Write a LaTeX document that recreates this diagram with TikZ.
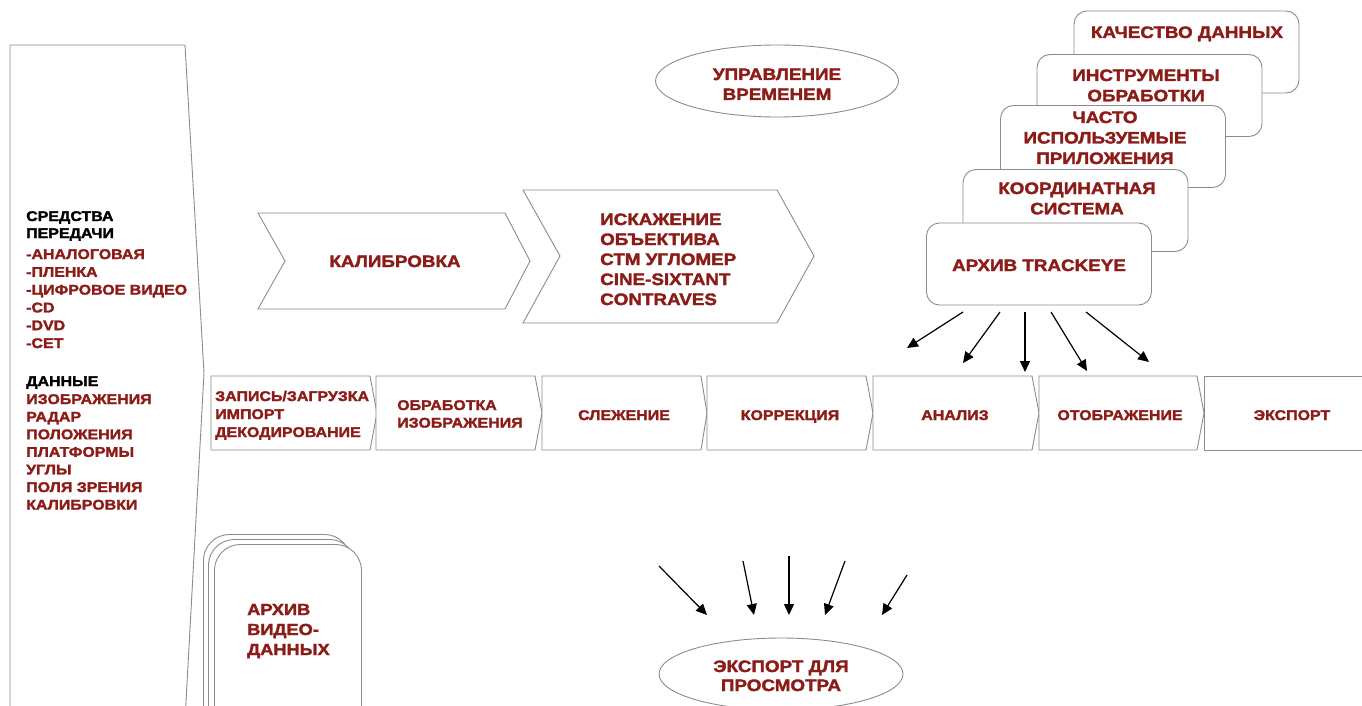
\documentclass[tikz,border=0pt]{standalone}
\usepackage{fontspec}
\setmainfont{Liberation Sans}[FakeStretch=1.14,BoldFeatures={FakeBold=2}]
\usetikzlibrary{arrows.meta,shapes.geometric}
\definecolor{tred}{RGB}{140,28,24}
\definecolor{lgray}{RGB}{140,140,140}
\begin{document}
\begin{tikzpicture}[x=1pt,y=-1pt,
  sml/.style={text=tred,font=\bfseries\fontsize{14}{17.6}\selectfont,inner sep=0pt,align=left},
  blk/.style={sml,text=black},
  big/.style={text=tred,font=\bfseries\fontsize{16.5}{20.3}\selectfont,inner sep=0pt},
  shp/.style={draw=lgray,line width=0.9pt,fill=white},
  arr/.style={-{Triangle[length=11pt,width=10pt]},line width=1.2pt},
  rbox/.style={shp,rounded corners=13pt,minimum width=225pt,minimum height=82pt,inner sep=0pt},
  vbox/.style={shp,rounded corners=26pt,minimum width=147pt,minimum height=200pt,inner sep=0pt,anchor=north west},
  ell/.style={shp,ellipse,minimum width=243pt,minimum height=72pt,inner sep=0pt}]
\useasboundingbox (0,0) rectangle (1362,706);
\clip (0,0) rectangle (1362,706);
\fill[white] (0,0) rectangle (1362,706);

% left panel
\draw[shp] (10,720) -- (10,45) -- (185,45) -- (204,373) -- (185,720);
\node[blk,anchor=base west,font=\bfseries\fontsize{14}{17}\selectfont] (media) at (26,238) {СРЕДСТВА\\ПЕРЕДАЧИ};
\node[sml,anchor=base west,font=\bfseries\fontsize{14}{17.8}\selectfont] (medialist) at (26,348)
  {-АНАЛОГОВАЯ\\-ПЛЕНКА\\-ЦИФРОВОЕ ВИДЕО\\-CD\\-DVD\\-СЕТ};
\node[blk,anchor=base west] (data) at (26,386) {ДАННЫЕ};
\node[sml,anchor=base west] (datalist) at (26,509.6)
  {ИЗОБРАЖЕНИЯ\\РАДАР\\ПОЛОЖЕНИЯ\\ПЛАТФОРМЫ\\УГЛЫ\\ПОЛЯ ЗРЕНИЯ\\КАЛИБРОВКИ};

% upper chevrons
\draw[shp] (258,213) -- (505,213) -- (530,261) -- (505,309) -- (258,309) -- (285,261) -- cycle;
\node[big,anchor=base] (calib) at (395,267) {КАЛИБРОВКА};
\draw[shp] (523,190) -- (777,190) -- (814,256) -- (777,323) -- (523,323) -- (560,256) -- cycle;
\node[big,anchor=base west,align=left,font=\bfseries\fontsize{16.5}{20}\selectfont] (lens) at (600,305)
  {ИСКАЖЕНИЕ\\ОБЪЕКТИВА\\СТМ УГЛОМЕР\\CINE-SIXTANT\\CONTRAVES};

% time ellipse
\node[ell] (timeell) at (777,81) {};
\node[big,anchor=base,align=center,font=\bfseries\fontsize{16.5}{20}\selectfont] (timetxt) at (777,100)
  {УПРАВЛЕНИЕ\\ВРЕМЕНЕМ};

% stacked rounded boxes
\node[rbox] (quality) at (1186.5,52) {};
\node[big,anchor=base] (qualitytxt) at (1187,38) {КАЧЕСТВО ДАННЫХ};
\node[rbox] (tools) at (1149.5,95.5) {};
\node[big,anchor=base,align=center] (toolstxt) at (1146,101.3) {ИНСТРУМЕНТЫ\\ОБРАБОТКИ};
\node[rbox] (apps) at (1113,146.5) {};
\node[big,anchor=base,align=center,font=\bfseries\fontsize{16.5}{20.5}\selectfont] (appstxt) at (1105,164)
  {ЧАСТО\\ИСПОЛЬЗУЕМЫЕ\\ПРИЛОЖЕНИЯ};
\node[rbox] (coord) at (1075.5,210.5) {};
\node[big,anchor=base,align=center] (coordtxt) at (1077,214.3) {КООРДИНАТНАЯ\\СИСТЕМА};
\node[rbox] (trk) at (1039,264) {};
\node[big,anchor=base] (trktxt) at (1039,271) {АРХИВ TRACKEYE};

% arrows from trackeye archive
\coordinate (ta1) at (963,312); \coordinate (tb1) at (907,348);
\coordinate (ta2) at (1000,312); \coordinate (tb2) at (963,363);
\coordinate (ta3) at (1025,312); \coordinate (tb3) at (1025,372);
\coordinate (ta4) at (1051,312); \coordinate (tb4) at (1087,371);
\coordinate (ta5) at (1086,312); \coordinate (tb5) at (1149,362);
\foreach \i in {1,...,5} {\draw[arr] (ta\i) -- (tb\i);}

% process row
\draw[shp] (211,376) -- (370,376) -- (377,413) -- (370,450) -- (211,450) -- cycle;
\draw[shp] (376,376) -- (535,376) -- (542,413) -- (535,450) -- (376,450) -- cycle;
\draw[shp] (542,376) -- (701,376) -- (707,413) -- (701,450) -- (542,450) -- cycle;
\draw[shp] (707,376) -- (866,376) -- (873,413) -- (866,450) -- (707,450) -- cycle;
\draw[shp] (873,376) -- (1032,376) -- (1039,413) -- (1032,450) -- (873,450) -- cycle;
\draw[shp] (1039,376) -- (1197,376) -- (1204,413) -- (1197,450) -- (1039,450) -- cycle;
\draw[shp] (1204,376) -- (1375,376) -- (1375,450) -- (1204,450) -- cycle;
\node[sml,anchor=base west,font=\bfseries\fontsize{14}{18}\selectfont] (p1) at (215,437)
  {ЗАПИСЬ/ЗАГРУЗКА\\ИМПОРТ\\ДЕКОДИРОВАНИЕ};
\node[sml,anchor=base west] (p2) at (397,427.6) {ОБРАБОТКА\\ИЗОБРАЖЕНИЯ};
\node[sml,anchor=base] (p3) at (624,420) {СЛЕЖЕНИЕ};
\node[sml,anchor=base] (p4) at (790,420) {КОРРЕКЦИЯ};
\node[sml,anchor=base] (p5) at (955,420) {АНАЛИЗ};
\node[sml,anchor=base] (p6) at (1120,420) {ОТОБРАЖЕНИЕ};
\node[sml,anchor=base] (p7) at (1292,420) {ЭКСПОРТ};

% video archive stack
\node[vbox] (v1) at (203,534) {};
\node[vbox] (v2) at (208,539) {};
\node[vbox] (v3) at (214,544) {};
\node[big,anchor=base west,align=left,font=\bfseries\fontsize{16}{20}\selectfont] (vtxt) at (247,655)
  {АРХИВ\\ВИДЕО-\\ДАННЫХ};

% export ellipse and arrows
\node[ell,minimum width=244pt] (expell) at (781,674) {};
\node[big,anchor=base,align=center,font=\bfseries\fontsize{16.5}{19}\selectfont] (exptxt) at (781,691)
  {ЭКСПОРТ ДЛЯ\\ПРОСМОТРА};
\coordinate (ea1) at (659,566); \coordinate (eb1) at (707,615);
\coordinate (ea2) at (743,561); \coordinate (eb2) at (754,615);
\coordinate (ea3) at (789,556); \coordinate (eb3) at (789,615);
\coordinate (ea4) at (845,561); \coordinate (eb4) at (825,615);
\coordinate (ea5) at (907,575); \coordinate (eb5) at (882,615);
\foreach \i in {1,...,5} {\draw[arr] (ea\i) -- (eb\i);}
\end{tikzpicture}
\end{document}
